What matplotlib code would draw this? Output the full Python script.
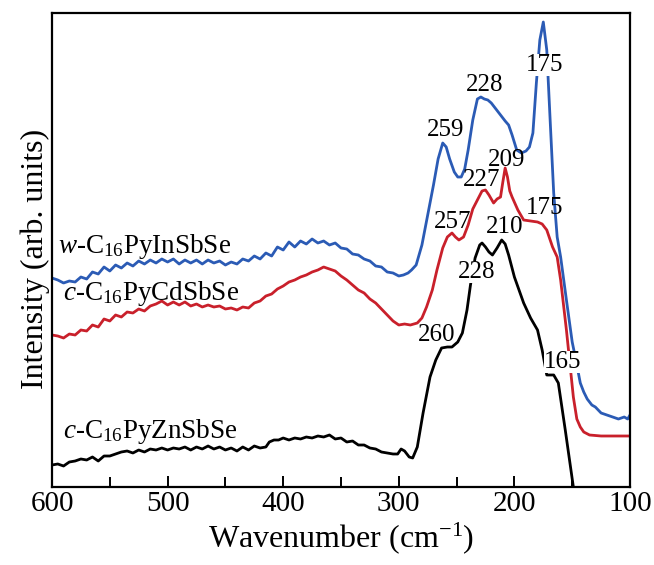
import matplotlib
matplotlib.use("Agg")
import matplotlib.pyplot as plt
from matplotlib.ticker import MultipleLocator, NullLocator

plt.rcParams['font.family'] = ['Liberation Serif', 'DejaVu Serif']
plt.rcParams['mathtext.fontset'] = 'custom'
plt.rcParams['mathtext.rm'] = 'Liberation Serif'
plt.rcParams['mathtext.it'] = 'Liberation Serif:italic'

# ---------------- data (wavenumber, intensity in arb. units) ----------------
blue_x = [600, 595, 590, 585, 580, 575, 570, 565, 560, 555, 550, 545, 540, 535, 530,
          525, 520, 515, 510, 505, 500, 495, 490, 485, 480, 475, 470, 465, 460, 455,
          450, 445, 440, 435, 430, 425, 420, 415, 410, 405, 400, 395, 390, 385, 380,
          375, 370, 365, 360, 355, 350, 345, 340, 335, 330, 325, 320, 315, 310, 305,
          300, 296, 292, 289, 285, 280, 275, 270, 266, 262, 259, 256, 252, 249, 246,
          243, 240, 236, 232, 229, 226, 223, 220, 216, 212, 208, 205, 202, 198, 194,
          190, 187, 184, 181, 178, 175, 172, 169, 166, 163, 160, 155, 150, 147, 143,
          140, 137, 133, 130, 125, 120, 115, 110, 105, 102, 100]
blue_y = [209, 207, 204, 206, 205, 210, 208, 215, 213, 220, 216, 222, 219, 224, 221,
          226, 223, 227, 224, 228, 225, 228, 223, 227, 224, 227, 223, 227, 224, 226,
          222, 225, 223, 228, 226, 231, 228, 234, 231, 240, 237, 245, 240, 246, 243,
          248, 244, 246, 242, 244, 239, 238, 233, 232, 228, 226, 221, 220, 215, 214,
          211, 212, 214, 217, 222, 242, 272, 302, 328, 344, 340, 328, 315, 310, 310,
          318, 337, 367, 388, 390, 388, 387, 384, 378, 372, 366, 362, 352, 337, 334,
          336, 340, 354, 404, 447, 465, 437, 365, 294, 250, 230, 187, 145, 128, 104,
          95, 88, 82, 80, 74, 72, 70, 68, 70, 68, 72]

red_x = [600, 595, 590, 585, 580, 575, 570, 565, 560, 555, 550, 545, 540, 535, 530,
         525, 520, 515, 510, 505, 500, 495, 490, 485, 480, 475, 470, 465, 460, 455,
         450, 445, 440, 435, 430, 425, 420, 415, 410, 405, 400, 395, 390, 385, 380,
         375, 370, 365, 360, 355, 350, 345, 340, 335, 330, 325, 320, 315, 310, 305,
         300, 295, 290, 284, 280, 276, 271, 267, 262, 258, 254, 251, 248, 244, 240,
         236, 232, 228, 225, 222, 218, 215, 212, 210, 208, 206, 204, 202, 197, 192,
         186, 180, 176, 172, 167, 163, 160, 155, 149, 146, 143, 140, 135, 125, 100]
red_y = [152, 151, 149, 153, 152, 157, 156, 162, 160, 168, 166, 172, 170, 175, 174,
         178, 176, 181, 183, 186, 182, 185, 182, 185, 181, 183, 180, 182, 180, 181,
         178, 179, 177, 180, 179, 184, 186, 191, 193, 198, 201, 205, 207, 210, 212,
         215, 217, 220, 218, 216, 211, 207, 202, 197, 194, 188, 184, 178, 172, 166,
         162, 163, 162, 164, 169, 180, 197, 217, 239, 250, 254, 250, 247, 250, 262,
         278, 287, 296, 297, 292, 284, 288, 290, 305, 319, 310, 296, 290, 277, 267,
         266, 265, 263, 257, 240, 230, 207, 157, 90, 68, 60, 55, 52, 51, 51]

black_x = [600, 595, 590, 585, 580, 575, 570, 565, 560, 555, 550, 545, 540, 535, 530,
           525, 520, 515, 510, 505, 500, 495, 490, 485, 480, 475, 470, 465, 460, 455,
           450, 445, 440, 435, 430, 425, 420, 415, 412, 408, 404, 400, 395, 390, 385,
           380, 375, 370, 365, 360, 355, 350, 345, 340, 335, 330, 325, 320, 315, 310,
           305, 301, 298, 295, 291, 288, 284, 279, 273, 268, 263, 258, 254, 249, 245,
           241, 238, 234, 230, 228, 225, 222, 219, 215, 211, 208, 205, 200, 192, 186,
           180, 176, 172, 169, 166, 162, 156, 149, 140]
black_y = [22, 23, 21, 25, 26, 28, 27, 30, 26, 31, 31, 33, 35, 36, 34,
           37, 35, 38, 37, 39, 37, 39, 38, 40, 37, 40, 38, 41, 38, 40,
           37, 39, 36, 40, 37, 41, 39, 40, 45, 47, 47, 49, 47, 49, 48,
           50, 49, 51, 50, 52, 48, 49, 45, 46, 42, 42, 39, 38, 35, 34,
           33, 33, 38, 36, 30, 29, 40, 74, 110, 127, 139, 140, 140, 145, 154,
           177, 202, 229, 242, 244, 240, 235, 232, 239, 247, 243, 232, 210, 184, 169,
           157, 137, 112, 112, 112, 104, 57, 0, -73]

series_names = [r"$\mathit{w}$-$\mathrm{C}_{16}$PyInSbSe",
                r"$\mathit{c}$-$\mathrm{C}_{16}$PyCdSbSe",
                r"$\mathit{c}$-$\mathrm{C}_{16}$PyZnSbSe"]
series_colors = ['#2b5bb5', '#c9202b', '#000000']

peak_labels = ['175', '228', '259', '209', '227', '175', '257', '210', '228', '260', '165']
peak_x = [173.5, 225.4, 259.2, 206.4, 228.0, 173.5, 253.1, 208.1, 232.4, 267.0, 158.0]
peak_y = [422, 402, 357, 327, 307, 279, 265, 260, 215, 152, 125]
peak_masked = [True, False, False, False, False, False, False, False, True, False, True]

name_x = [594.8, 590.5, 590.5]
name_y = [234, 187, 49]

x_ticks = [600, 500, 400, 300, 200, 100]

# ---------------- figure ----------------
fig = plt.figure(figsize=(6.54, 5.65), dpi=100)
ax = fig.add_axes([52 / 654, 1 - 487 / 565, 578 / 654, 474 / 565])

for xs, ys, c in zip([blue_x, red_x, black_x], [blue_y, red_y, black_y], series_colors):
    ax.plot(xs, ys, color=c, lw=2.0, solid_joinstyle='round', zorder=2)

for t, x, y, m in zip(peak_labels, peak_x, peak_y, peak_masked):
    kw = {}
    if m:
        kw['bbox'] = dict(boxstyle='square,pad=0.0', fc='white', ec='none')
    ax.text(x, y, t, fontsize=18, ha='center', va='center', color='black', zorder=3, **kw)

for t, x, y in zip(series_names, name_x, name_y):
    ax.text(x, y, t, fontsize=19.5, ha='left', va='baseline', color='black', zorder=3)

ax.set_xlim(600, 100)
ax.set_ylim(0, 474)
ax.set_xticks(x_ticks)
ax.xaxis.set_minor_locator(MultipleLocator(50))
ax.yaxis.set_major_locator(NullLocator())
ax.tick_params(axis='x', which='major', direction='in', length=8, width=1.4,
               labelsize=21, pad=3, top=False)
ax.tick_params(axis='x', which='minor', direction='in', length=7, width=1.4, top=False)
for s in ax.spines.values():
    s.set_linewidth(1.6)

ax.set_xlabel(r"Wavenumber (cm$^{\mathregular{-1}}$)", fontsize=23, labelpad=2)
ax.set_ylabel("Intensity (arb. units)", fontsize=23)
ax.yaxis.set_label_coords(-0.004, 0.481)

fig.savefig("out.png", dpi=100)
